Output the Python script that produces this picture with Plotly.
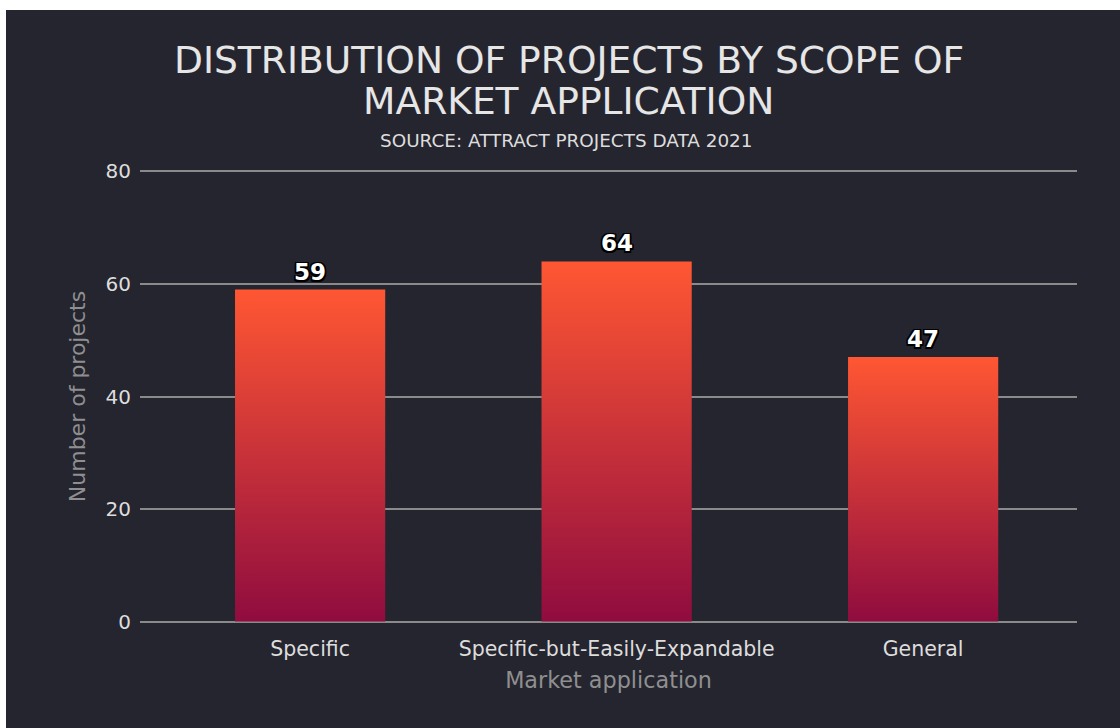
import plotly.graph_objects as go

categories = ["Specific", "Specific-but-Easily-Expandable", "General"]
counts = [59, 64, 47]
y_ticks = [0, 20, 40, 60, 80]

title_lines = ["DISTRIBUTION OF PROJECTS BY SCOPE OF", "MARKET APPLICATION"]
subtitle = "SOURCE: ATTRACT PROJECTS DATA 2021"

BG = "#25252f"
FONT = "DejaVu Sans"
BAR_W = 0.49
grad = [[0, "#900C3F"], [1, "#FF5733"]]
OUTLINE = ("-1.5px -1.5px 0 #000, 1.5px -1.5px 0 #000, -1.5px 1.5px 0 #000, "
           "1.5px 1.5px 0 #000, 0 1.5px 0 #000, 0 -1.5px 0 #000, 1.5px 0 0 #000, -1.5px 0 0 #000")

fig = go.Figure()
for i, (cat, v) in enumerate(zip(categories, counts)):
    x0, x1 = i - BAR_W / 2, i + BAR_W / 2
    fig.add_trace(go.Scatter(
        x=[x0, x1, x1, x0, x0], y=[0, 0, v, v, 0],
        mode="lines", fill="toself", line=dict(width=0),
        fillgradient=dict(type="vertical", colorscale=grad),
        hoverinfo="skip", showlegend=False, name=cat,
    ))

W, H = 1120, 728
L, R, T, B = 140, 43, 170, 105
Y_RANGE = [-0.25, 80.25]
pw, ph = W - L - R, H - T - B

def px_x(p):
    return (p - L) / pw

def px_y(p):
    return (H - B - p) / ph

annotations = [
    dict(text=title_lines[0], xref="paper", yref="paper", x=px_x(569), y=px_y(60),
         showarrow=False, font=dict(size=37.6, color="#e6e6e6"), xanchor="center", yanchor="middle"),
    dict(text=title_lines[1], xref="paper", yref="paper", x=px_x(568), y=px_y(101),
         showarrow=False, font=dict(size=37.6, color="#e6e6e6"), xanchor="center", yanchor="middle"),
    dict(text=subtitle, xref="paper", yref="paper", x=px_x(566), y=px_y(141),
         showarrow=False, font=dict(size=18.4, color="#dddddd"), xanchor="center", yanchor="middle"),
]
for i, v in enumerate(counts):
    annotations.append(dict(
        x=i, y=v, xref="x", yref="y", text=str(v), showarrow=False,
        xanchor="center", yanchor="bottom", yshift=3,
        font=dict(family=FONT, size=23, color="white", weight="bold", shadow=OUTLINE),
    ))

fig.update_layout(
    width=W, height=H,
    margin=dict(l=L, r=R, t=T, b=B, pad=0),
    paper_bgcolor="white", plot_bgcolor=BG,
    font=dict(family=FONT, color="#dddddd"),
    shapes=[dict(type="rect", xref="paper", yref="paper", layer="below",
                 x0=px_x(6), x1=px_x(1130), y0=px_y(740), y1=px_y(10),
                 fillcolor=BG, line=dict(width=0))],
    annotations=annotations,
    xaxis=dict(range=[-0.555, 2.502], tickvals=list(range(len(categories))), ticktext=categories,
               showgrid=False, zeroline=False, showline=False,
               tickfont=dict(size=20.5, color="#dddddd"), ticklabelstandoff=11,
               title=dict(text="Market application", font=dict(size=22.3, color="#8f8f8f"), standoff=12)),
    yaxis=dict(range=Y_RANGE, tickvals=y_ticks, showgrid=True, gridcolor="#8a8a8a", gridwidth=1.5,
               zeroline=False, showline=False,
               tickfont=dict(size=20, color="#dddddd"), ticklabelstandoff=8,
               title=dict(text="Number of projects", font=dict(size=22, color="#8f8f8f"), standoff=13)),
)

fig.write_html("out.html")
